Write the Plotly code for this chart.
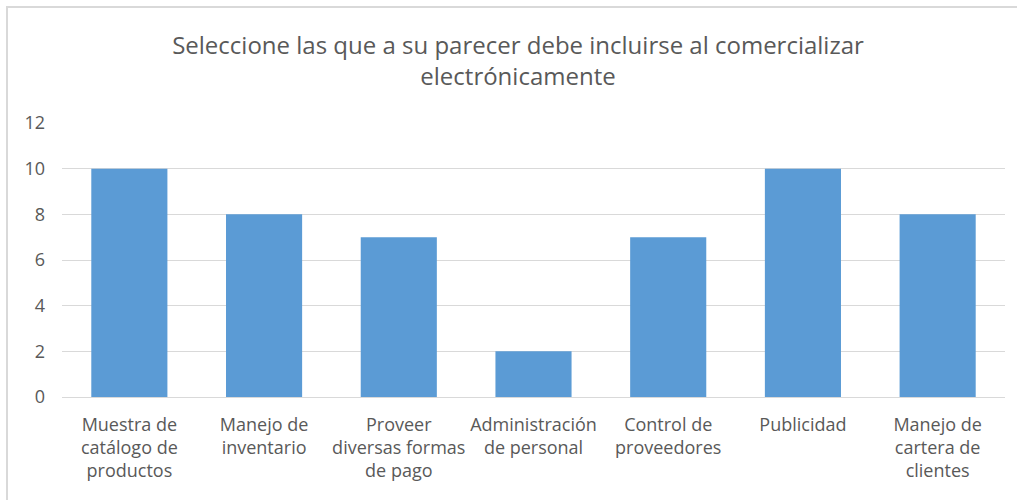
import plotly.graph_objects as go

categories = ["Muestra de<br>catálogo de<br>productos", "Manejo de<br>inventario",
              "Proveer<br>diversas formas<br>de pago", "Administración<br>de personal",
              "Control de<br>proveedores", "Publicidad", "Manejo de<br>cartera de<br>clientes"]
values = [10, 8, 7, 2, 7, 10, 8]
y_ticks = [0, 2, 4, 6, 8, 10, 12]

L, R, T, B = 62, 12, 123, 103
W, H = 1017, 500
pw, ph = W - L - R, H - T - B

fig = go.Figure(go.Bar(x=categories, y=values, marker_color="#5B9BD5",
                       marker_line_width=0))
fig.update_layout(
    width=W, height=H,
    margin=dict(l=L, r=R, t=T, b=B),
    paper_bgcolor="white", plot_bgcolor="white",
    bargap=0.435,
    font=dict(family="Open Sans, Liberation Sans, sans-serif", color="#595959"),
    title=dict(text="Seleccione las que a su parecer debe incluirse al comercializar<br>electrónicamente",
               x=518 / W, xanchor="center", y=1 - 54 / H, yanchor="middle",
               font=dict(size=24, color="#595959")),
    showlegend=False,
)
fig.update_xaxes(showgrid=False, showline=True, linecolor="#D9D9D9", linewidth=1,
                 tickfont=dict(size=18, color="#595959"), ticks="", tickangle=0,
                 ticklabelstandoff=11)
fig.update_yaxes(range=[0, 12], tickvals=y_ticks, showgrid=True, gridcolor="#D9D9D9",
                 gridwidth=1, zeroline=False, showline=False, ticks="",
                 tickfont=dict(size=18, color="#595959"), ticklabelstandoff=16)
fig.add_shape(type="rect", xref="paper", yref="paper",
              x0=(7 - L) / pw, x1=(1030 - L) / pw,
              y0=-(510 - (H - B)) / ph, y1=1 + (T - 7) / ph,
              line=dict(color="#D9D9D9", width=2), fillcolor="rgba(0,0,0,0)", layer="below")
fig.write_html("out.html")
